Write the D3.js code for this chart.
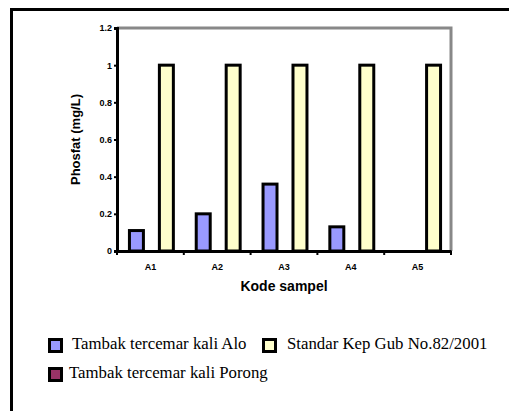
<!DOCTYPE html>
<html>
<head>
<meta charset="utf-8">
<script src="https://cdn.jsdelivr.net/npm/d3@7"></script>
<style>
  body { margin: 0; background: #fff; }
  svg { display: block; }
</style>
</head>
<body>
<div id="chart"></div>
<script>
const categories = ["A1", "A2", "A3", "A4", "A5"];
const seriesNames = ["Tambak tercemar kali Alo", "Tambak tercemar kali Porong", "Standar Kep Gub No.82/2001"];
const seriesColors = ["#9999ff", "#993366", "#ffffcc"];
const aloValues = [0.11, 0.2, 0.36, 0.13, null];
const porongValues = [null, null, null, null, null];
const standarValues = [1, 1, 1, 1, 1];
const yTicks = [0, 0.2, 0.4, 0.6, 0.8, 1, 1.2];

const width = 509, height = 411;
const margin = ({top: 28, right: 58, bottom: 160, left: 117});

const svg = d3.select("#chart").append("svg").attr("width", width).attr("height", height);

// outer frame (runs off the right and bottom edges)
svg.append("rect")
  .attr("x", 11.5).attr("y", 9.5)
  .attr("width", 540).attr("height", 440)
  .attr("fill", "none").attr("stroke", "#000").attr("stroke-width", 3);

const x = d3.scaleBand()
  .domain(categories)
  .range([margin.left, width - margin.right]);

const x1 = d3.scaleBand()
  .domain(seriesNames)
  .range([0, x.bandwidth()])
  .paddingOuter(0.73);

const y = d3.scaleLinear()
  .domain([0, 1.2])
  .range([height - margin.bottom, margin.top]);

// grey top and right edges of the plot area
svg.append("path")
  .attr("d", `M${margin.left},${y(1.2)}H${width - margin.right}V${y(0)}`)
  .attr("fill", "none").attr("stroke", "#888").attr("stroke-width", 3);

const rows = categories.map((c, i) => ({cat: c, values: [aloValues[i], porongValues[i], standarValues[i]]}));

const groups = svg.selectAll("g.cat")
  .data(rows)
  .enter().append("g").attr("class", "cat")
  .attr("transform", d => `translate(${x(d.cat)},0)`);

groups.selectAll("rect")
  .data(d => d.values.map((v, j) => ({name: seriesNames[j], value: v, color: seriesColors[j]})).filter(e => e.value != null))
  .enter().append("rect")
  .attr("x", d => x1(d.name) + 1.5)
  .attr("width", x1.bandwidth() - 1)
  .attr("y", d => y(d.value))
  .attr("height", d => y(0) - y(d.value))
  .attr("fill", d => d.color)
  .attr("stroke", "#000")
  .attr("stroke-width", 3);

const xAxis = svg.append("g")
  .attr("transform", `translate(0,${y(0)})`)
  .call(d3.axisBottom(x).tickSize(0).tickPadding(13));
xAxis.select(".domain").attr("stroke", "#000").attr("stroke-width", 3);
// tick marks at category boundaries
xAxis.selectAll("line.sep")
  .data(categories.concat(["end"]))
  .enter().append("line").attr("class", "sep")
  .attr("x1", (d, i) => margin.left + i * x.step())
  .attr("x2", (d, i) => margin.left + i * x.step())
  .attr("y1", 0).attr("y2", 4)
  .attr("stroke", "#000").attr("stroke-width", 2);

const yAxis = svg.append("g")
  .attr("transform", `translate(${margin.left},0)`)
  .call(d3.axisLeft(y).tickValues(yTicks).tickFormat(d3.format("")).tickSize(3).tickPadding(2));
yAxis.select(".domain").attr("stroke", "#000").attr("stroke-width", 3);
yAxis.selectAll(".tick line").attr("stroke-width", 2);

svg.selectAll(".tick text")
  .attr("font-family", "Arial, 'Liberation Sans', sans-serif")
  .attr("font-weight", "bold")
  .attr("font-size", 9);

svg.append("text")
  .attr("x", (margin.left + width - margin.right) / 2)
  .attr("y", 291)
  .attr("text-anchor", "middle")
  .style("font-family", "Arial, 'Liberation Sans', sans-serif")
  .style("font-weight", "bold")
  .style("font-size", "14px")
  .text("Kode sampel");

svg.append("text")
  .attr("transform", `translate(80,${(margin.top + y(0)) / 2}) rotate(-90)`)
  .attr("text-anchor", "middle")
  .style("font-family", "Arial, 'Liberation Sans', sans-serif")
  .style("font-weight", "bold")
  .style("font-size", "13px")
  .text("Phosfat (mg/L)");

// legend
const legendItems = [
  {name: seriesNames[0], color: seriesColors[0], x: 48, y: 338, tx: 72},
  {name: seriesNames[2], color: seriesColors[2], x: 262, y: 338, tx: 287},
  {name: seriesNames[1], color: seriesColors[1], x: 48, y: 367, tx: 69}
];
const legend = svg.selectAll("g.legend")
  .data(legendItems)
  .enter().append("g").attr("class", "legend");
legend.append("rect")
  .attr("x", d => d.x + 1.5).attr("y", d => d.y + 1.5)
  .attr("width", 12).attr("height", 12)
  .attr("fill", d => d.color)
  .attr("stroke", "#000").attr("stroke-width", 3);
legend.append("text")
  .attr("x", d => d.tx)
  .attr("y", d => d.y + 11)
  .style("font-family", "'Liberation Serif', 'Times New Roman', serif")
  .style("font-size", "16.8px")
  .text(d => d.name);
</script>
</body>
</html>
